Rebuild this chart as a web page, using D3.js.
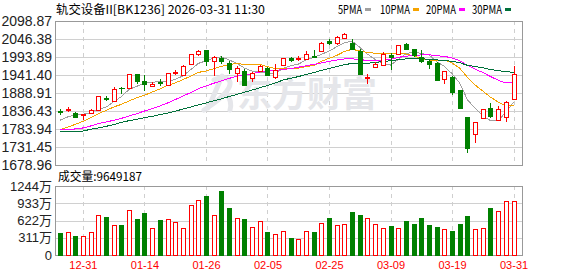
<!DOCTYPE html>
<html>
<head>
<meta charset="utf-8">
<style>
    body { margin: 0; background: white; overflow: hidden; }
    svg { display: block; background: white; }
    .lbl { font: 14px "Liberation Sans", Arial, sans-serif; fill: #222; }
    .vlbl { font: 13px "Liberation Sans", Arial, "Noto Sans CJK SC", sans-serif; fill: #222; }
    .xlbl { font: 11px "Liberation Sans", Arial, sans-serif; fill: #f00; }
    .cjk { font: 12px "Noto Sans CJK SC", sans-serif; fill: #000; }
    .grid line { stroke: #d0d0d0; shape-rendering: crispEdges; }
    .grid path { display: none; }
    .vgrid { stroke: #cfcfcf; stroke-dasharray: 4 4; shape-rendering: crispEdges; }
    .frame { fill: none; stroke: #999; shape-rendering: crispEdges; }
    .ma { fill: none; stroke-width: 1; shape-rendering: crispEdges; }
</style>
<script src="https://cdn.jsdelivr.net/npm/d3@7"></script>
</head>
<body>
<script>
const dates = ["12-26","12-29","12-30","12-31","01-05","01-06","01-07","01-08","01-09","01-12",
    "01-13","01-14","01-15","01-16","01-19","01-20","01-21","01-22","01-23","01-26",
    "01-27","01-28","01-29","01-30","02-02","02-03","02-04","02-05","02-06","02-09",
    "02-10","02-11","02-12","02-13","02-24","02-25","02-26","02-27","03-02","03-03",
    "03-04","03-05","03-06","03-09","03-10","03-11","03-12","03-13","03-16","03-17",
    "03-18","03-19","03-20","03-23","03-24","03-25","03-26","03-27","03-30","03-31"];
const xTicks = ["12-31","01-14","01-26","02-05","02-25","03-09","03-19","03-31"];

const open = [1836.4,1840.3,1831.6,1824,1831.6,1839.3,1875.3,1866.6,1904.4,1904.5,
    1943.4,1923.9,1910,1921.9,1911.3,1947.3,1942.4,1974.5,2001.6,2014.3,
    1983.2,1991.9,1975.4,1948.2,1953,1933.6,1952.1,1961.8,1935.6,1971.5,
    1990.9,1988.9,1989,1997.8,2010.4,2040.5,2034.7,2049.3,2034.7,2010.4,
    1932,1963.8,1969.6,1998.7,2003.6,2032.8,2016.2,1994.8,1983.2,1975.4,
    1928.8,1935.6,1896.7,1817.9,1768.4,1815,1844.2,1809.2,1819.9,1870.4];
const high = [1841.3,1847.1,1833.5,1828,1841,1880.5,1880,1906.4,1906.4,1945.3,
    1945.3,1940.4,1920,1928.8,1946.5,1957,1971.5,2003.5,2015,2015,
    1995.8,1996.8,1981.2,1966.7,1959.8,1950.1,1971.5,1964.7,1972.5,1992,
    1994.9,1997.8,2010.4,2014.3,2037.6,2045.4,2054.2,2063.9,2045.4,2018.2,
    1943,1979.3,2009.4,2006.5,2030,2034.7,2018.2,2013.3,1986.1,1979.3,
    1952,1938.5,1898,1818,1805,1843.2,1859.8,1850,1866.6,1968.6];
const low = [1824.8,1833.5,1817,1809,1829,1838,1865.6,1864.6,1887,1903.5,
    1915.1,1894.7,1905,1908,1909,1940.5,1940.4,1973,1997.8,1967,
    1937.5,1972.5,1945.3,1922,1913,1921,1950,1938.5,1928.8,1970,
    1979.3,1982.2,1986.1,1990.9,2009.4,2029.9,2028.9,2046.4,2016.2,1940.4,
    1916,1962.8,1968.6,1955,2002.6,2013.3,1994.8,1977.4,1958.9,1924.9,
    1915,1884,1845,1714.9,1744.1,1814,1815,1807.3,1804.3,1868.5];
const close = [1832.5,1841.3,1820,1826.5,1839.3,1880.1,1871.4,1899.6,1902.5,1943.4,
    1924.9,1914.2,1914,1917,1946.3,1950,1966.7,2002.6,2010.4,1983.2,
    1992.9,1983.2,1957.9,1960.8,1913.2,1948.2,1968.6,1940.4,1956.9,1990.9,
    1985.1,1990.9,2002.6,1992.9,2034.7,2035.7,2052,2060,2018.2,1945.3,
    1936,1973.5,2002.6,1993.9,2027.9,2018.2,1998.7,1983.2,1972.5,1926.8,
    1952,1891.8,1846.1,1729.5,1803.4,1841.3,1820.9,1841.3,1861.7,1943.4];
// volume in 万
const volume = [396,414,342,345,414,715,685,541,541,805,
    649,757,487,625,643,595,481,901,988,1064,
    715,1154,847,661,649,499,613,415,373,433,
    306,288,427,415,571,667,535,553,781,721,
    667,553,481,523,481,613,559,667,541,505,
    463,433,559,703,463,481,847,793,968,965];

// moving-average values before a full window exists
const ma5Lead = [1809.2,1818.9,1825.7,1826.7];
const ma10Lead = [1782,1788.8,1797.5,1806,1817,1828.6,1838,1848,1855.9];
const ma20Lead = [1782,1783,1784,1787,1792.7,1799.5,1804.4,1809.2,1815,1821.8,
    1828.6,1836.4,1843.2,1851,1859.7,1869.5,1880.2,1889.9,1901.5];
const ma30Lead = [1778,1778,1778,1778,1783,1787,1791.7,1796.5,1803.4,1808.2,
    1812.1,1817,1820.9,1825.7,1830,1836,1842,1848,1854,1860,
    1866,1872,1878.5,1884.5,1891,1897.5,1904,1911,1918];

const priceTicks = [1678.96,1731.45,1783.94,1836.43,1888.91,1941.40,1993.89,2046.38,2098.87];
const volTicks = [0,311,622,933,1244];

const maDefs = [
    {name: "5PMA", n: 5, lead: ma5Lead, color: "#a0a0a0", lx: 338, rx: 365},
    {name: "10PMA", n: 10, lead: ma10Lead, color: "#f5a300", lx: 380, rx: 413},
    {name: "20PMA", n: 20, lead: ma20Lead, color: "#ff00ff", lx: 426, rx: 459},
    {name: "30PMA", n: 30, lead: ma30Lead, color: "#00703a", lx: 472, rx: 505}
];

const W = 578, H = 276;
const left = 55, right = 522;
const svg = d3.select("body").append("svg").attr("width", W).attr("height", H);

const x = d3.scaleBand().domain(d3.range(dates.length)).range([56, 56 + dates.length * 7.69]);
const cx = i => x(i) + x.bandwidth() / 2;
const y = d3.scaleLinear().domain([1678.96, 2098.87]).range([165, 21]);
const yv = d3.scaleLinear().domain([0, 1244]).range([255, 186]);

// horizontal grid
svg.append("g").attr("class", "grid").attr("transform", `translate(${left},0)`)
    .call(d3.axisLeft(y).tickValues(priceTicks).tickSize(-(right - left)).tickFormat(""));
svg.append("g").attr("class", "grid").attr("transform", `translate(${left},0)`)
    .call(d3.axisLeft(yv).tickValues(volTicks).tickSize(-(right - left)).tickFormat(""));

// vertical dashed grid
const tickIdx = xTicks.map(t => dates.indexOf(t));
[[21, 165], [186, 255]].forEach(([y0, y1]) => {
    svg.append("g").selectAll("line").data(tickIdx).join("line")
        .attr("class", "vgrid")
        .attr("x1", d => Math.round(cx(d)) + 0.5).attr("x2", d => Math.round(cx(d)) + 0.5)
        .attr("y1", y0).attr("y2", y1);
});

// watermark
const wm = svg.append("g").attr("fill", "#e5e6ea");
wm.append("text").attr("x", 237).attr("y", 107)
    .style("font", "bold 35px 'Noto Sans CJK SC', sans-serif")
    .text("东方财富");
wm.append("path")
    .attr("d", "M214,80 C226,74 236,80 226,92 C220,100 210,106 204,110 M222,76 C216,90 212,100 208,108 M226,92 C230,98 232,104 230,110")
    .attr("fill", "none").attr("stroke", "#e5e6ea").attr("stroke-width", 5).attr("stroke-linecap", "round");

// frames
svg.append("rect").attr("class", "frame").attr("x", left + 0.5).attr("y", 21.5)
    .attr("width", right - left).attr("height", 144);
svg.append("rect").attr("class", "frame").attr("x", left + 0.5).attr("y", 186.5)
    .attr("width", right - left).attr("height", 69);

// axis labels
const axL = svg.append("g").attr("class", "lbl").attr("transform", `translate(${left},0)`)
    .call(d3.axisLeft(y).tickValues(priceTicks).tickSize(0).tickPadding(3).tickFormat(d3.format(".2f")));
axL.select(".domain").remove();
axL.selectAll("text").attr("class", "lbl");

const axV = svg.append("g").attr("transform", `translate(${left},0)`)
    .call(d3.axisLeft(yv).tickValues(volTicks).tickSize(0).tickPadding(3).tickFormat(d => d === 0 ? "0" : d + "万"));
axV.select(".domain").remove();
axV.selectAll("text").attr("class", "vlbl");

const axX = svg.append("g").attr("transform", "translate(0,259)")
    .call(d3.axisBottom(d3.scalePoint().domain(dates).range([cx(0), cx(dates.length - 1)]))
        .tickValues(xTicks).tickSize(0).tickPadding(2));
axX.select(".domain").remove();
axX.selectAll("text").attr("class", "xlbl");

// moving averages
const idx = d3.range(close.length);
maDefs.forEach(m => {
    const vals = idx.map(i => i < m.n - 1 ? m.lead[i] : d3.mean(close.slice(i - m.n + 1, i + 1)));
    svg.append("path").attr("class", "ma").attr("stroke", m.color)
        .attr("d", d3.line().x((d, i) => cx(i)).y(d => y(d))(vals));
});

// candles
const RED = "#ff0000", GREEN = "#008000";
const candle = svg.append("g").selectAll("g").data(idx).join("g")
    .attr("shape-rendering", "crispEdges");
candle.each(function(i) {
    const g = d3.select(this);
    const up = close[i] >= open[i];
    const col = up ? RED : GREEN;
    const xc = Math.round(cx(i)) + 0.5;
    g.append("line").attr("x1", xc).attr("x2", xc)
        .attr("y1", y(high[i])).attr("y2", y(low[i])).attr("stroke", col);
    const top = Math.round(y(Math.max(open[i], close[i])));
    const bot = Math.round(y(Math.min(open[i], close[i])));
    if (bot - top < 1) {
        g.append("line").attr("x1", xc - 3).attr("x2", xc + 3)
            .attr("y1", top + 0.5).attr("y2", top + 0.5).attr("stroke", col);
    } else {
        g.append("rect").attr("x", xc - 2).attr("y", top + 0.5)
            .attr("width", 4).attr("height", bot - top)
            .attr("fill", up ? "#fff" : GREEN).attr("stroke", col);
    }
});

// volume bars
svg.append("g").attr("shape-rendering", "crispEdges")
    .selectAll("rect").data(idx).join("rect")
    .attr("x", i => Math.round(cx(i)) - 1.5)
    .attr("y", i => Math.round(yv(volume[i])) + 0.5)
    .attr("width", 4)
    .attr("height", i => 255 - Math.round(yv(volume[i])) - 0.5)
    .attr("fill", i => close[i] >= open[i] ? "#fff" : GREEN)
    .attr("stroke", i => close[i] >= open[i] ? RED : GREEN);

// titles and legend
svg.append("text").attr("class", "cjk").attr("x", 56).attr("y", 14)
    .attr("textLength", 209).attr("lengthAdjust", "spacingAndGlyphs")
    .text("轨交设备II[BK1236] 2026-03-31 11:30");
svg.append("text").attr("class", "cjk").attr("x", 58).attr("y", 181)
    .attr("textLength", 84).attr("lengthAdjust", "spacingAndGlyphs")
    .text("成交量:9649187");

const leg = svg.append("g");
maDefs.forEach(m => {
    leg.append("text").attr("class", "cjk").attr("x", m.lx).attr("y", 14)
        .attr("textLength", m.name.length * 6).attr("lengthAdjust", "spacingAndGlyphs")
        .text(m.name);
    leg.append("rect").attr("x", m.rx).attr("y", 8).attr("width", 6).attr("height", 3)
        .attr("fill", m.color);
});
</script>
</body>
</html>
